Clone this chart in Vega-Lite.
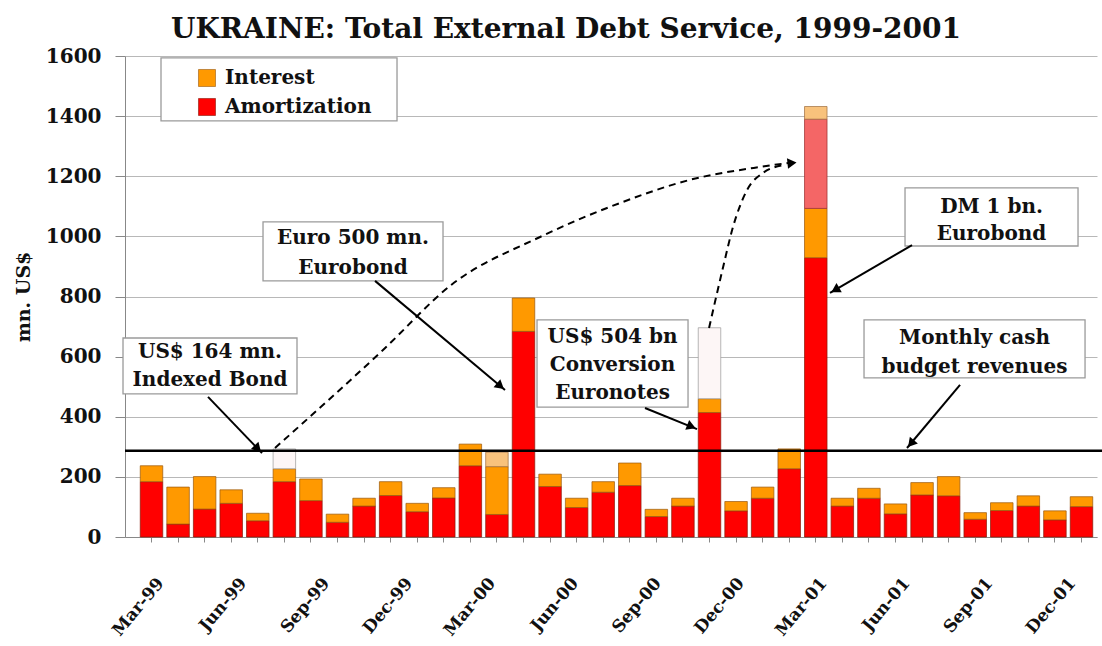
{
  "$schema": "https://vega.github.io/schema/vega-lite/v6.json",
  "width": 972,
  "height": 481,
  "autosize": "none",
  "padding": {"left": 125, "top": 56, "right": 5, "bottom": 109},
  "background": "white",
  "config": {"view": {"stroke": null}, "font": "DejaVu Serif"},
  "title": {
    "text": "UKRAINE: Total External Debt Service, 1999-2001",
    "font": "DejaVu Serif", "fontSize": 28, "fontWeight": "bold", "color": "#111111",
    "anchor": "middle", "dx": -45, "offset": 2
  },
  "datasets": {
    "debt": [
      {"month": "Jan-99", "component": "Amortization", "value": 184}, {"month": "Jan-99", "component": "Interest", "value": 53},
      {"month": "Feb-99", "component": "Amortization", "value": 43}, {"month": "Feb-99", "component": "Interest", "value": 123},
      {"month": "Mar-99", "component": "Amortization", "value": 93}, {"month": "Mar-99", "component": "Interest", "value": 108},
      {"month": "Apr-99", "component": "Amortization", "value": 112}, {"month": "Apr-99", "component": "Interest", "value": 45},
      {"month": "May-99", "component": "Amortization", "value": 54}, {"month": "May-99", "component": "Interest", "value": 25},
      {"month": "Jun-99", "component": "Amortization", "value": 184}, {"month": "Jun-99", "component": "Interest", "value": 43}, {"month": "Jun-99", "component": "Rescheduled", "value": 66},
      {"month": "Jul-99", "component": "Amortization", "value": 121}, {"month": "Jul-99", "component": "Interest", "value": 72},
      {"month": "Aug-99", "component": "Amortization", "value": 49}, {"month": "Aug-99", "component": "Interest", "value": 27},
      {"month": "Sep-99", "component": "Amortization", "value": 103}, {"month": "Sep-99", "component": "Interest", "value": 26},
      {"month": "Oct-99", "component": "Amortization", "value": 138}, {"month": "Oct-99", "component": "Interest", "value": 46},
      {"month": "Nov-99", "component": "Amortization", "value": 84}, {"month": "Nov-99", "component": "Interest", "value": 28},
      {"month": "Dec-99", "component": "Amortization", "value": 130}, {"month": "Dec-99", "component": "Interest", "value": 34},
      {"month": "Jan-00", "component": "Amortization", "value": 237}, {"month": "Jan-00", "component": "Interest", "value": 72},
      {"month": "Feb-00", "component": "Amortization", "value": 75}, {"month": "Feb-00", "component": "Interest", "value": 159}, {"month": "Feb-00", "component": "Rescheduled interest", "value": 48},
      {"month": "Mar-00", "component": "Amortization", "value": 684}, {"month": "Mar-00", "component": "Interest", "value": 111},
      {"month": "Apr-00", "component": "Amortization", "value": 168}, {"month": "Apr-00", "component": "Interest", "value": 41},
      {"month": "May-00", "component": "Amortization", "value": 98}, {"month": "May-00", "component": "Interest", "value": 31},
      {"month": "Jun-00", "component": "Amortization", "value": 149}, {"month": "Jun-00", "component": "Interest", "value": 35},
      {"month": "Jul-00", "component": "Amortization", "value": 171}, {"month": "Jul-00", "component": "Interest", "value": 75},
      {"month": "Aug-00", "component": "Amortization", "value": 68}, {"month": "Aug-00", "component": "Interest", "value": 24},
      {"month": "Sep-00", "component": "Amortization", "value": 103}, {"month": "Sep-00", "component": "Interest", "value": 26},
      {"month": "Oct-00", "component": "Amortization", "value": 414}, {"month": "Oct-00", "component": "Interest", "value": 46}, {"month": "Oct-00", "component": "Rescheduled", "value": 236},
      {"month": "Nov-00", "component": "Amortization", "value": 87}, {"month": "Nov-00", "component": "Interest", "value": 31},
      {"month": "Dec-00", "component": "Amortization", "value": 129}, {"month": "Dec-00", "component": "Interest", "value": 37},
      {"month": "Jan-01", "component": "Amortization", "value": 227}, {"month": "Jan-01", "component": "Interest", "value": 66},
      {"month": "Feb-01", "component": "Amortization", "value": 929}, {"month": "Feb-01", "component": "Interest", "value": 164}, {"month": "Feb-01", "component": "Rescheduled amortization", "value": 297}, {"month": "Feb-01", "component": "Rescheduled interest", "value": 42},
      {"month": "Mar-01", "component": "Amortization", "value": 103}, {"month": "Mar-01", "component": "Interest", "value": 26},
      {"month": "Apr-01", "component": "Amortization", "value": 129}, {"month": "Apr-01", "component": "Interest", "value": 33},
      {"month": "May-01", "component": "Amortization", "value": 77}, {"month": "May-01", "component": "Interest", "value": 33},
      {"month": "Jun-01", "component": "Amortization", "value": 140}, {"month": "Jun-01", "component": "Interest", "value": 41},
      {"month": "Jul-01", "component": "Amortization", "value": 137}, {"month": "Jul-01", "component": "Interest", "value": 64},
      {"month": "Aug-01", "component": "Amortization", "value": 59}, {"month": "Aug-01", "component": "Interest", "value": 22},
      {"month": "Sep-01", "component": "Amortization", "value": 88}, {"month": "Sep-01", "component": "Interest", "value": 26},
      {"month": "Oct-01", "component": "Amortization", "value": 103}, {"month": "Oct-01", "component": "Interest", "value": 34},
      {"month": "Nov-01", "component": "Amortization", "value": 57}, {"month": "Nov-01", "component": "Interest", "value": 30},
      {"month": "Dec-01", "component": "Amortization", "value": 101}, {"month": "Dec-01", "component": "Interest", "value": 33}
    ],
    "boxes": [
      {"box": "legend", "x0": 0.355, "x1": 9.237, "y0": 1594, "y1": 1384},
      {"box": "Indexed Bond", "x0": -1.075, "x1": 5.473, "y0": 662, "y1": 476},
      {"box": "Euro Eurobond", "x0": 4.194, "x1": 10.968, "y0": 1048, "y1": 852},
      {"box": "Conversion Euronotes", "x0": 14.506, "x1": 20.189, "y0": 722, "y1": 432},
      {"box": "DM Eurobond", "x0": 28.355, "x1": 34.866, "y0": 1161, "y1": 968},
      {"box": "Cash revenues", "x0": 26.812, "x1": 35.13, "y0": 722, "y1": 529}
    ],
    "revenues": [
      {"x0": -1, "x1": 35.77, "revenue": 287}
    ],
    "labels": [
      {"x": 2.199, "y": 615, "text": "US$ 164 mn."},
      {"x": 2.199, "y": 522, "text": "Indexed Bond"},
      {"x": 7.581, "y": 995, "text": "Euro 500 mn."},
      {"x": 7.581, "y": 895, "text": "Eurobond"},
      {"x": 17.347, "y": 665, "text": "US$ 504 bn"},
      {"x": 17.347, "y": 572, "text": "Conversion"},
      {"x": 17.347, "y": 479, "text": "Euronotes"},
      {"x": 31.611, "y": 1098, "text": "DM 1 bn."},
      {"x": 31.611, "y": 1008, "text": "Eurobond"},
      {"x": 30.971, "y": 662, "text": "Monthly cash"},
      {"x": 30.971, "y": 565, "text": "budget revenues"}
    ],
    "arrows": [
      {"x0": 2.124, "y0": 466, "x1": 4.156, "y1": 279},
      {"x0": 8.409, "y0": 852, "x1": 13.301, "y1": 489},
      {"x0": 18.57, "y0": 429, "x1": 20.527, "y1": 359},
      {"x0": 28.619, "y0": 971, "x1": 25.533, "y1": 812},
      {"x0": 30.425, "y0": 506, "x1": 28.43, "y1": 296}
    ],
    "curves": [
      {"curve": "Indexed bond", "x": 4.645, "y": 296},
      {"curve": "Indexed bond", "x": 8.71, "y": 622},
      {"curve": "Indexed bond", "x": 11.3, "y": 840},
      {"curve": "Indexed bond", "x": 14.62, "y": 998},
      {"curve": "Indexed bond", "x": 17.63, "y": 1111},
      {"curve": "Indexed bond", "x": 20.26, "y": 1188},
      {"curve": "Indexed bond", "x": 22.9, "y": 1231},
      {"curve": "Indexed bond", "x": 23.95, "y": 1244},
      {"curve": "Euronotes", "x": 20.98, "y": 695},
      {"curve": "Euronotes", "x": 21.51, "y": 898},
      {"curve": "Euronotes", "x": 21.88, "y": 1031},
      {"curve": "Euronotes", "x": 22.41, "y": 1154},
      {"curve": "Euronotes", "x": 23.01, "y": 1211},
      {"curve": "Euronotes", "x": 23.84, "y": 1238}
    ],
    "heads": [
      {"x": 3.999, "y": 294, "angle": 136},
      {"x": 13.128, "y": 502, "angle": 130},
      {"x": 20.317, "y": 367, "angle": 112},
      {"x": 25.728, "y": 822, "angle": 240},
      {"x": 28.578, "y": 311, "angle": 220},
      {"x": 24.102, "y": 1244, "angle": 84}
    ]
  },
  "layer": [
    {
      "data": {"name": "debt"},
      "mark": {"type": "bar", "strokeWidth": 0.9, "strokeOpacity": 0.8},
      "encoding": {
        "x": {
          "field": "month", "type": "ordinal", "sort": null,
          "scale": {"paddingInner": 0.153, "paddingOuter": 0.367, "align": 0.782},
          "axis": {
            "title": null,
            "labelExpr": "indexof(['Mar','Jun','Sep','Dec'], slice(datum.value, 0, 3)) >= 0 ? datum.value : ''",
            "labelAngle": -50, "labelAlign": "right", "labelBaseline": "middle",
            "labelFont": "DejaVu Serif", "labelFontWeight": "bold", "labelFontSize": 17, "labelColor": "#111111",
            "labelPadding": 38, "labelOffset": {"expr": "-46 + 37 * datum.index"}, "labelOverlap": false,
            "tickSize": 5, "tickColor": "#888888", "domainColor": "#888888", "grid": false
          }
        },
        "y": {
          "field": "value", "type": "quantitative", "stack": "zero",
          "scale": {"domain": [0, 1600], "nice": false},
          "axis": {
            "title": "mn. US$", "titleFont": "DejaVu Serif", "titleFontWeight": "bold", "titleFontSize": 19,
            "titleColor": "#111111", "titlePadding": 12,
            "values": [0, 200, 400, 600, 800, 1000, 1200, 1400, 1600], "format": "d",
            "labelFont": "DejaVu Serif", "labelFontWeight": "bold", "labelFontSize": 20, "labelColor": "#111111",
            "labelPadding": 14, "tickSize": 10, "tickColor": "#888888", "domainColor": "#888888",
            "grid": true, "gridColor": "#b8b8b8", "gridWidth": 1
          }
        },
        "color": {
          "field": "component", "type": "nominal",
          "scale": {
            "domain": ["Amortization", "Interest", "Rescheduled", "Rescheduled amortization", "Rescheduled interest"],
            "range": ["#ff0000", "#ff9900", "#fdf6f6", "#f46666", "#f8c27c"]
          },
          "legend": {
            "values": ["Interest", "Amortization"],
            "orient": "none", "legendX": 72, "legendY": 12, "title": null,
            "symbolType": "square", "symbolSize": 290, "symbolStrokeWidth": 0.6,
            "labelFont": "DejaVu Serif", "labelFontWeight": "bold", "labelFontSize": 20, "labelColor": "#111111",
            "labelOffset": 8, "rowPadding": 9, "padding": 0
          }
        },
        "stroke": {
          "field": "component", "type": "nominal",
          "scale": {
            "domain": ["Amortization", "Interest", "Rescheduled", "Rescheduled amortization", "Rescheduled interest"],
            "range": ["#8a1a0a", "#9a5a10", "#9a9a9a", "#9a3030", "#a07040"]
          },
          "legend": null
        },
        "order": {"field": "component", "type": "ordinal", "sort": "ascending"}
      }
    },
    {
      "layer": [
        {
          "data": {"name": "revenues"},
          "mark": {"type": "rule", "color": "#000000", "strokeWidth": 2.5},
          "encoding": {
            "x": {"field": "x0", "type": "quantitative", "scale": {"domain": [-1, 35.58], "nice": false, "zero": false}, "axis": null},
            "x2": {"field": "x1"},
            "y": {"field": "revenue", "type": "quantitative", "scale": {"domain": [0, 1600], "nice": false}}
          }
        },
        {
          "data": {"name": "boxes"},
          "mark": {"type": "rect", "fill": "#ffffff", "stroke": "#9a9a9a", "strokeWidth": 1.3},
          "encoding": {
            "x": {"field": "x0", "type": "quantitative", "scale": {"domain": [-1, 35.58], "nice": false, "zero": false}, "axis": null},
            "x2": {"field": "x1"},
            "y": {"field": "y0", "type": "quantitative", "scale": {"domain": [0, 1600], "nice": false}},
            "y2": {"field": "y1"}
          }
        },
        {
          "data": {"name": "labels"},
          "mark": {"type": "text", "font": "DejaVu Serif", "fontWeight": "bold", "fontSize": 20, "color": "#111111", "align": "center", "baseline": "middle"},
          "encoding": {
            "x": {"field": "x", "type": "quantitative", "scale": {"domain": [-1, 35.58], "nice": false, "zero": false}, "axis": null},
            "y": {"field": "y", "type": "quantitative", "scale": {"domain": [0, 1600], "nice": false}},
            "text": {"field": "text"}
          }
        },
        {
          "data": {"name": "arrows"},
          "mark": {"type": "rule", "color": "#000000", "strokeWidth": 2},
          "encoding": {
            "x": {"field": "x0", "type": "quantitative", "scale": {"domain": [-1, 35.58], "nice": false, "zero": false}, "axis": null},
            "x2": {"field": "x1"},
            "y": {"field": "y0", "type": "quantitative", "scale": {"domain": [0, 1600], "nice": false}},
            "y2": {"field": "y1"}
          }
        },
        {
          "data": {"name": "curves"},
          "mark": {"type": "line", "color": "#000000", "strokeWidth": 2, "strokeDash": [7, 5], "interpolate": "monotone"},
          "encoding": {
            "x": {"field": "x", "type": "quantitative", "scale": {"domain": [-1, 35.58], "nice": false, "zero": false}, "axis": null},
            "y": {"field": "y", "type": "quantitative", "scale": {"domain": [0, 1600], "nice": false}},
            "detail": {"field": "curve"}
          }
        },
        {
          "data": {"name": "heads"},
          "mark": {"type": "point", "shape": "triangle-up", "filled": true, "color": "#000000", "size": 110, "opacity": 1},
          "encoding": {
            "x": {"field": "x", "type": "quantitative", "scale": {"domain": [-1, 35.58], "nice": false, "zero": false}, "axis": null},
            "y": {"field": "y", "type": "quantitative", "scale": {"domain": [0, 1600], "nice": false}},
            "angle": {"field": "angle", "type": "quantitative", "scale": null}
          }
        }
      ]
    }
  ],
  "resolve": {"scale": {"x": "independent"}}
}
